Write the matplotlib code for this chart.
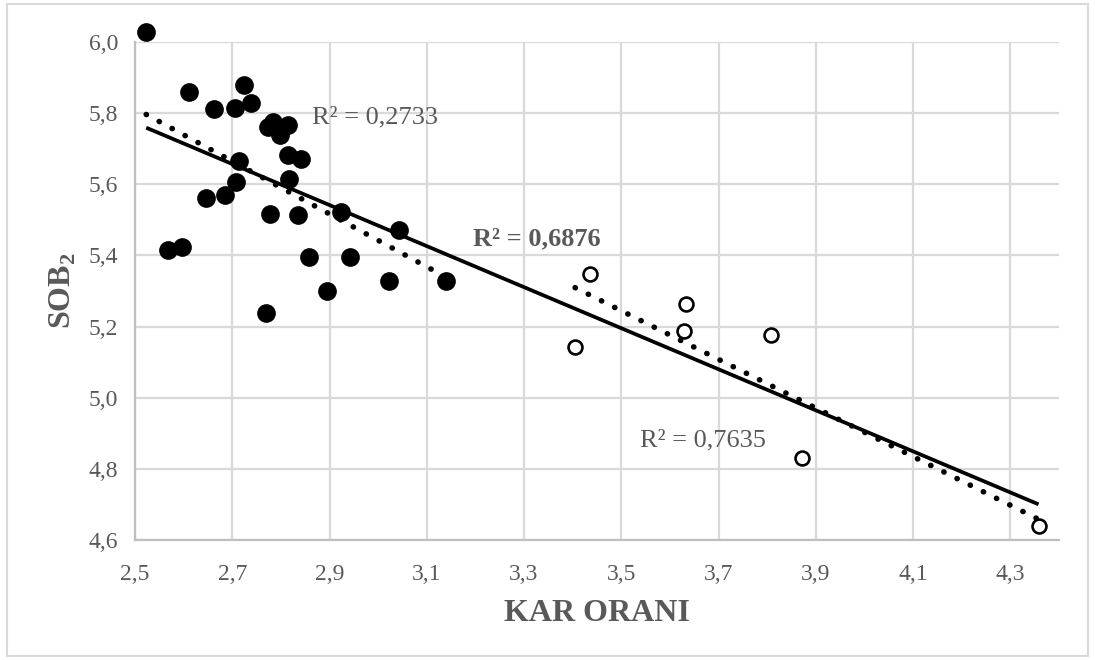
import numpy as np
import matplotlib.pyplot as plt
from matplotlib.patches import Rectangle

plt.rcParams['font.family'] = ['Liberation Serif', 'DejaVu Serif']
plt.rcParams['mathtext.fontset'] = 'custom'
plt.rcParams['mathtext.rm'] = 'Liberation Serif'
plt.rcParams['mathtext.bf'] = 'Liberation Serif:bold'

# filled group
x_a = [2.523, 2.610, 2.724, 2.738, 2.662, 2.706, 2.774, 2.784, 2.815, 2.798,
       2.713, 2.814, 2.841, 2.816, 2.707, 2.645, 2.686, 2.777, 2.836, 2.924,
       3.042, 2.567, 2.596, 2.858, 2.943, 3.022, 3.140, 2.894, 2.769]
y_a = [6.026, 5.858, 5.879, 5.828, 5.811, 5.813, 5.762, 5.776, 5.766, 5.738,
       5.666, 5.683, 5.670, 5.614, 5.606, 5.562, 5.569, 5.517, 5.514, 5.522,
       5.471, 5.415, 5.425, 5.397, 5.396, 5.329, 5.327, 5.301, 5.238]
# open group
x_b = [3.436, 3.405, 3.634, 3.628, 3.807, 3.872, 4.358]
y_b = [5.348, 5.144, 5.264, 5.188, 5.178, 4.831, 4.642]

x_ticks = [2.5, 2.7, 2.9, 3.1, 3.3, 3.5, 3.7, 3.9, 4.1, 4.3]
y_ticks = [4.6, 4.8, 5.0, 5.2, 5.4, 5.6, 5.8, 6.0]
r2_labels = ['R² = 0,2733', 'R² = 0,6876', 'R² = 0,7635']

gray = '#595959'

fig = plt.figure(figsize=(10.95, 6.6), dpi=100)
ax = fig.add_axes([0.1233, 0.1811, 0.8438, 0.7557])

def trend(xs, ys, ls, lw):
    k, b = np.polyfit(xs, ys, 1)
    xx = np.array([min(xs), max(xs)])
    ax.plot(xx, k * xx + b, color='black', lw=lw, linestyle=ls,
            dash_capstyle='round', solid_capstyle='butt', zorder=2)

trend(x_a + x_b, y_a + y_b, '-', 2.7)
trend(x_a, y_a, (0, (0.05, 2.6)), 4)
trend(x_b, y_b, (0, (0.05, 2.6)), 4)

ax.scatter(x_a, y_a, s=155, color='black', zorder=3, clip_on=False)
ax.scatter(x_b, y_b, s=100, facecolor='white', edgecolor='black',
           linewidth=1.9, zorder=3, clip_on=False)

ax.text(2.864, 5.786, r2_labels[0], color=gray, fontsize=19, va='center')
ax.text(3.195, 5.446, r2_labels[1], color=gray, fontsize=19,
        fontweight='bold', va='center')
ax.text(3.538, 4.882, r2_labels[2], color=gray, fontsize=19, va='center')

ax.set_xlim(2.5, 4.4)
ax.set_ylim(4.6, 6.0)
ax.set_xticks(x_ticks)
ax.set_xticklabels([f'{v:.1f}'.replace('.', ',') for v in x_ticks])
ax.set_yticks(y_ticks)
ax.set_yticklabels([f'{v:.1f}'.replace('.', ',') for v in y_ticks])
ax.tick_params(length=0, labelsize=17, labelcolor=gray)
ax.tick_params(axis='x', pad=17)
ax.tick_params(axis='y', pad=12)
ax.grid(True, color='#d9d9d9', lw=1.6)
ax.set_axisbelow(True)
for s in ['top', 'right']:
    ax.spines[s].set_visible(False)
for s in ['left', 'bottom']:
    ax.spines[s].set_color('#bfbfbf')
    ax.spines[s].set_linewidth(1.6)

ax.set_xlabel('KAR ORANI', fontsize=23, fontweight='bold', color=gray, labelpad=10)
ax.set_ylabel(r'SOB$_\mathbf{2}$', fontsize=23, fontweight='bold', color=gray, labelpad=8)

fig.patches.append(Rectangle((0.006, 0.006), 0.988, 0.988, transform=fig.transFigure,
                             fill=False, edgecolor='#d9d9d9', lw=1.5))

fig.savefig('out.png', dpi=100)
